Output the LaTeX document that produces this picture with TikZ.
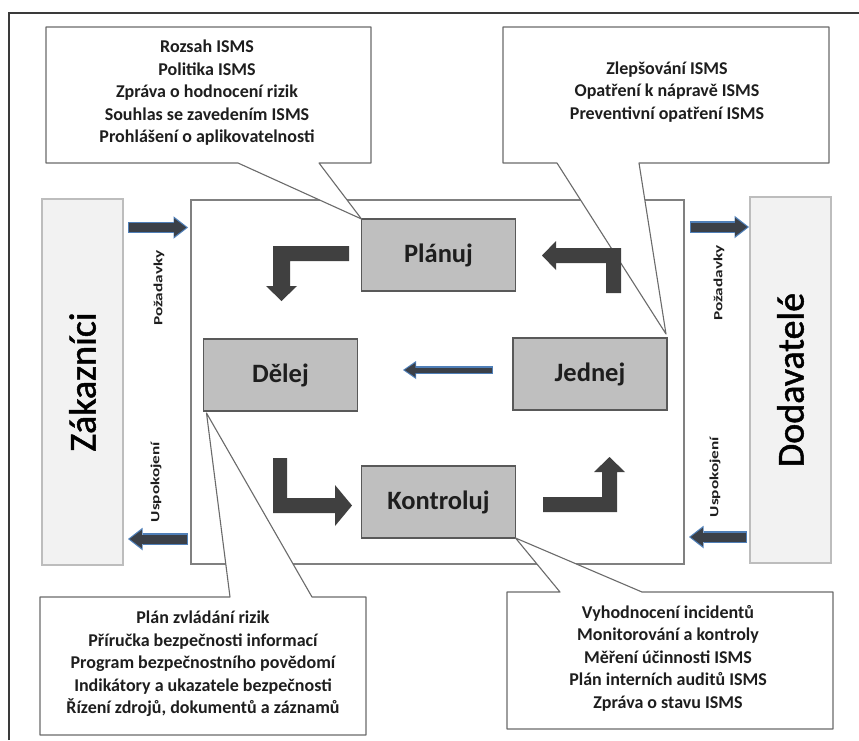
\documentclass[tikz,border=0pt]{standalone}
\usepackage{fontspec}
\setmainfont{Carlito}
\newfontfamily\sidefont[FakeBold=1.3]{Carlito}
\usetikzlibrary{arrows.meta}

\definecolor{framegray}{HTML}{3A3A3A}
\definecolor{boxline}{HTML}{595959}
\definecolor{boxfill}{HTML}{BFBFBF}
\definecolor{sidefill}{HTML}{F2F2F2}
\definecolor{sideline}{HTML}{BDBDBD}
\definecolor{midline}{HTML}{808080}
\definecolor{callline}{HTML}{6B6B6B}
\definecolor{inktext}{HTML}{1E1E1E}
\definecolor{turnarrow}{HTML}{404040}
\definecolor{flowcore}{HTML}{3B4048}
\definecolor{flowedge}{HTML}{4F7FB8}

\tikzset{
  stage/.style={draw=boxline, line width=1.2pt, fill=boxfill, minimum width=154pt,
    minimum height=72pt, inner sep=0pt, outer sep=0pt,
    font=\fontsize{26.5}{30}\selectfont\bfseries, text=inktext},
  side/.style={draw=sideline, line width=1.5pt, fill=sidefill, rotate=90,
    minimum width=366pt, minimum height=81pt, inner sep=0pt, outer sep=0pt,
    font=\sidefont\fontsize{38}{40}\selectfont, text=black},
  flowlabel/.style={rotate=90, inner sep=0pt, font=\fontsize{12.5}{14}\selectfont\bfseries, text=inktext},
  callbox/.style={fill=white, inner sep=0pt, outer sep=0pt},
  calloutline/.style={draw=callline, line width=1.1pt, line join=round},
  calltext/.style={align=center, inner sep=0pt, text=inktext,
    font=\fontsize{18}{22.5}\selectfont\bfseries},
  turn/.style={fill=turnarrow},
  flow/.style={draw=flowcore, line width=9pt,
    -{Triangle[length=12pt,width=18pt,line width=0pt]},
    shorten <=1.2pt, shorten >=1.8pt,
    preaction={draw=flowedge, line width=11.5pt,
      -{Triangle[length=14.5pt,width=22.5pt,line width=0pt]},
      shorten <=0pt, shorten >=0pt}},
  thinflow/.style={draw=flowcore, line width=5pt,
    -{Triangle[length=10.5pt,width=14pt,line width=0pt]},
    shorten <=1.2pt, shorten >=1.8pt,
    preaction={draw=flowedge, line width=7.5pt,
      -{Triangle[length=13pt,width=18pt,line width=0pt]},
      shorten <=0pt, shorten >=0pt}}
}

\begin{document}
\begin{tikzpicture}[x=1pt,y=-1pt]
\useasboundingbox (0,0) rectangle (859,740);
\fill[white] (0,0) rectangle (859,740);

% page frame
\draw[framegray, line width=2.4pt] (9,740) -- (9,13) -- (859,13);

% PDCA area
\node[draw=midline, line width=1.2pt, minimum width=493pt, minimum height=364pt,
      inner sep=0pt, outer sep=0pt] (core) at (437.5,382) {};

% customers and suppliers
\node[side] (zak) at (82.5,382) {Zákazníci};
\node[side] (dod) at (790.5,380) {Dodavatelé};

% the four stages
\node[stage] (plan) at (438.5,255) {Plánuj};
\node[stage] (dele) at (280.5,375) {Dělej};
\node[stage] (jed)  at (590,374)   {Jednej};
\node[stage] (kon)  at (438.5,502) {Kontroluj};

% callout: plan
\coordinate (c1l) at (238,163);
\coordinate (c1r) at (319,163);
\fill[white] (c1l) -- (plan.north west) -- (c1r) -- cycle;
\node[callbox, minimum width=325pt, minimum height=136pt] (c1) at (208.5,95) {};
\draw[calloutline] (c1l) -- (c1.south west) -- (c1.north west) -- (c1.north east)
  -- (c1.south east) -- (c1r) -- (plan.north west) -- cycle;
\node[calltext] (t1) at (207,93) {Rozsah ISMS\\Politika ISMS\\Zpráva o hodnocení rizik\\
  Souhlas se zavedením ISMS\\Prohlášení o aplikovatelnosti};

% callout: act
\coordinate (c2l) at (557,163);
\coordinate (c2r) at (639,163);
\coordinate (c2tip) at ([shift={(-1,-4)}]jed.north east);
\fill[white] (c2l) -- (c2tip) -- (c2r) -- cycle;
\node[callbox, minimum width=326pt, minimum height=136pt] (c2) at (666,95) {};
\draw[calloutline] (c2l) -- (c2.south west) -- (c2.north west) -- (c2.north east)
  -- (c2.south east) -- (c2r) -- (c2tip) -- cycle;
\node[calltext] (t2) at (667,92) {Zlepšování ISMS\\Opatření k nápravě ISMS\\Preventivní opatření ISMS};

% callout: do
\coordinate (c3l) at (230,597);
\coordinate (c3r) at (312,597);
\coordinate (c3tip) at ([shift={(3,2)}]dele.south west);
\fill[white] (c3l) -- (c3tip) -- (c3r) -- cycle;
\node[callbox, minimum width=326pt, minimum height=138pt] (c3) at (203,666) {};
\draw[calloutline] (c3l) -- (c3.north west) -- (c3.south west) -- (c3.south east)
  -- (c3.north east) -- (c3r) -- (c3tip) -- cycle;
\node[calltext] (t3) at (203,664) {Plán zvládání rizik\\Příručka bezpečnosti informací\\
  Program bezpečnostního povědomí\\Indikátory a ukazatele bezpečnosti\\Řízení zdrojů, dokumentů a záznamů};

% callout: check
\coordinate (c4l) at (560,592);
\coordinate (c4r) at (642,592);
\fill[white] (c4l) -- (kon.south east) -- (c4r) -- cycle;
\node[callbox, minimum width=326pt, minimum height=137pt] (c4) at (670,660.5) {};
\draw[calloutline] (c4l) -- (c4.north west) -- (c4.south west) -- (c4.south east)
  -- (c4.north east) -- (c4r) -- (kon.south east) -- cycle;
\node[calltext] (t4) at (668,658) {Vyhodnocení incidentů\\Monitorování a kontroly\\
  Měření účinnosti ISMS\\Plán interních auditů ISMS\\Zpráva o stavu ISMS};

% bent arrows of the cycle
\fill[turn] (349,246) -- (273,246) -- (273,286) -- (266,286) -- (281.5,301)
  -- (297,286) -- (290,286) -- (290,261) -- (349,261) -- cycle;
\fill[turn] (606,293) -- (621,293) -- (621,248) -- (556,248) -- (556,241)
  -- (542,255.5) -- (556,270) -- (556,263) -- (606,263) -- cycle;
\fill[turn] (273,458) -- (287,458) -- (287,498) -- (335,498) -- (335,485)
  -- (352,505.5) -- (335,526) -- (335,513) -- (273,513) -- cycle;
\fill[turn] (543,497) -- (602,497) -- (602,472) -- (594,472) -- (609.5,457)
  -- (625,472) -- (617,472) -- (617,512) -- (543,512) -- cycle;

% requirements and satisfaction flows
\coordinate (zq0) at (128,227.5);  \coordinate (zq1) at (188,227.5);
\coordinate (zs0) at (188,539);    \coordinate (zs1) at (128,539);
\coordinate (dq0) at (690,227);    \coordinate (dq1) at (749,227);
\coordinate (ds0) at (747,537);    \coordinate (ds1) at (689,537);
\coordinate (jd0) at (493,370);    \coordinate (jd1) at (403,370);
\draw[flow] (zq0) -- (zq1);
\draw[flow] (zs0) -- (zs1);
\draw[flow] (dq0) -- (dq1);
\draw[flow] (ds0) -- (ds1);
\draw[thinflow] (jd0) -- (jd1);

\node[flowlabel] (lq) at (159,288) {\scalebox{1.38}[1]{Požadavky}};
\node[flowlabel] (ls) at (156,482) {\scalebox{1.38}[1]{Uspokojení}};
\node[flowlabel] (rq) at (719,283) {\scalebox{1.38}[1]{Požadavky}};
\node[flowlabel] (rs) at (715,477) {\scalebox{1.38}[1]{Uspokojení}};
\end{tikzpicture}
\end{document}
